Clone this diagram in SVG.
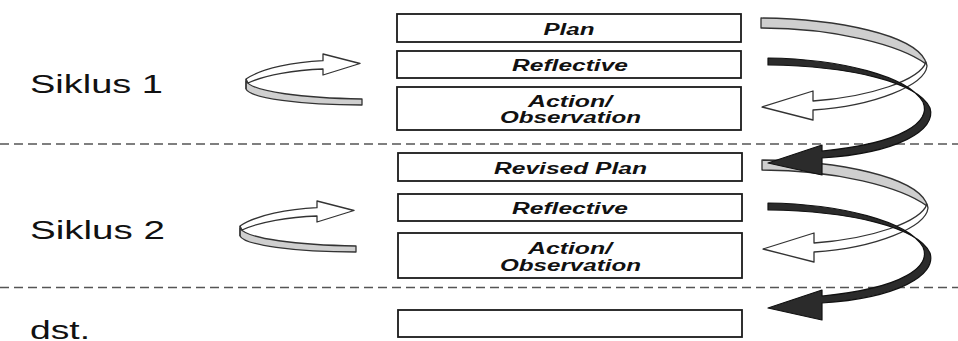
<svg xmlns="http://www.w3.org/2000/svg" width="958" height="341" viewBox="0 0 958 341">
  <style>
    .box { fill: #ffffff; stroke: #1a1a1a; stroke-width: 1.8; }
    .btxt { font-family: "Liberation Sans", Arial, sans-serif; font-size: 16px; font-weight: bold; font-style: italic; fill: #111; text-anchor: middle; }
    .lbl { font-family: "Liberation Sans", Arial, sans-serif; font-size: 25px; fill: #111; }
    .dash { stroke: #555; stroke-width: 1.6; stroke-dasharray: 9 5; fill: none; }
    .rib-gray { fill: #cfcfcf; stroke: #333; stroke-width: 1.3; stroke-linejoin: round; }
    .rib-white { fill: #ffffff; stroke: #333; stroke-width: 1.3; stroke-linejoin: round; }
    .rib-black { fill: #2b2b2b; stroke: #111; stroke-width: 1.2; stroke-linejoin: round; }
  </style>
  <defs>
    <!-- small turning arrow beside each cycle label -->
    <g id="turn">
      <path class="rib-gray" d="M246,81 C252,92 305,98 362,99 L362,105 C300,105 250,98 246,89 Z"/>
      <path class="rib-white" d="M246,79 C262,68 295,62 323,60.7 L323,54 L360,63.5 L323,75 L323,69 C295,70 265,75 248,83 Z"/>
      <path d="M246,79 L246,89" stroke="#333" stroke-width="1.3"/>
    </g>
    <!-- spiral: gray band turning into a white returning arrow -->
    <g id="spiral-light">
      <path class="rib-gray" d="M761,18 C840,19 912,35 925,60 L926,64 C900,45 835,28 761,28 Z"/>
      <path class="rib-white" d="M926,62 C920,80 870,97 813,101 L813,91 L762,107 L813,120 L813,110 C875,106 925,85 927,66 Z"/>
    </g>
    <!-- spiral: dark band leading into the next cycle -->
    <path id="spiral-dark" class="rib-black" d="M768,58 C840,59 908,76 923,102 C931,121 905,143 822,151 L822,145 L768,163 L822,175 L822,158 C898,153 937,130 930,108 C918,82 850,66 768,65 Z"/>
  </defs>

  <!-- cycle separators -->
  <g id="separators">
    <line class="dash" x1="0" y1="144" x2="958" y2="144"/>
    <line class="dash" x1="0" y1="287.5" x2="958" y2="287.5"/>
  </g>

  <!-- cycle labels -->
  <g id="labels">
    <text class="lbl" x="30" y="93" textLength="133" lengthAdjust="spacingAndGlyphs">Siklus 1</text>
    <text class="lbl" x="30" y="239" textLength="135" lengthAdjust="spacingAndGlyphs">Siklus 2</text>
    <text class="lbl" x="30" y="339" textLength="60" lengthAdjust="spacingAndGlyphs">dst.</text>
  </g>

  <!-- cycle 1 steps -->
  <g id="plan">
    <rect class="box" x="397" y="14" width="344" height="28"/>
    <text class="btxt" x="569" y="35" textLength="51" lengthAdjust="spacingAndGlyphs">Plan</text>
  </g>
  <g id="reflective-1">
    <rect class="box" x="397" y="51" width="344" height="27"/>
    <text class="btxt" x="570" y="71" textLength="116" lengthAdjust="spacingAndGlyphs">Reflective</text>
  </g>
  <g id="action-1">
    <rect class="box" x="397" y="87" width="344" height="43"/>
    <text class="btxt" x="570" y="106.5" textLength="84" lengthAdjust="spacingAndGlyphs">Action/</text>
    <text class="btxt" x="570.5" y="123" textLength="141" lengthAdjust="spacingAndGlyphs">Observation</text>
  </g>

  <!-- cycle 2 steps -->
  <g id="revised-plan">
    <rect class="box" x="398" y="153" width="344" height="28"/>
    <text class="btxt" x="570.5" y="174" textLength="153" lengthAdjust="spacingAndGlyphs">Revised Plan</text>
  </g>
  <g id="reflective-2">
    <rect class="box" x="398" y="194" width="344" height="27"/>
    <text class="btxt" x="570" y="214" textLength="116" lengthAdjust="spacingAndGlyphs">Reflective</text>
  </g>
  <g id="action-2">
    <rect class="box" x="398" y="233" width="344" height="45"/>
    <text class="btxt" x="570" y="254" textLength="84" lengthAdjust="spacingAndGlyphs">Action/</text>
    <text class="btxt" x="570.5" y="271" textLength="141" lengthAdjust="spacingAndGlyphs">Observation</text>
  </g>

  <!-- next cycle (empty) -->
  <g id="next-step">
    <rect class="box" x="398" y="310" width="344" height="27"/>
  </g>

  <!-- connectors -->
  <g id="connectors">
    <use href="#turn"/>
    <use href="#turn" transform="translate(-6,147)"/>
    <use href="#spiral-light"/>
    <use href="#spiral-light" transform="translate(1,142)"/>
    <use href="#spiral-dark"/>
    <use href="#spiral-dark" transform="translate(0,145)"/>
  </g>
</svg>
